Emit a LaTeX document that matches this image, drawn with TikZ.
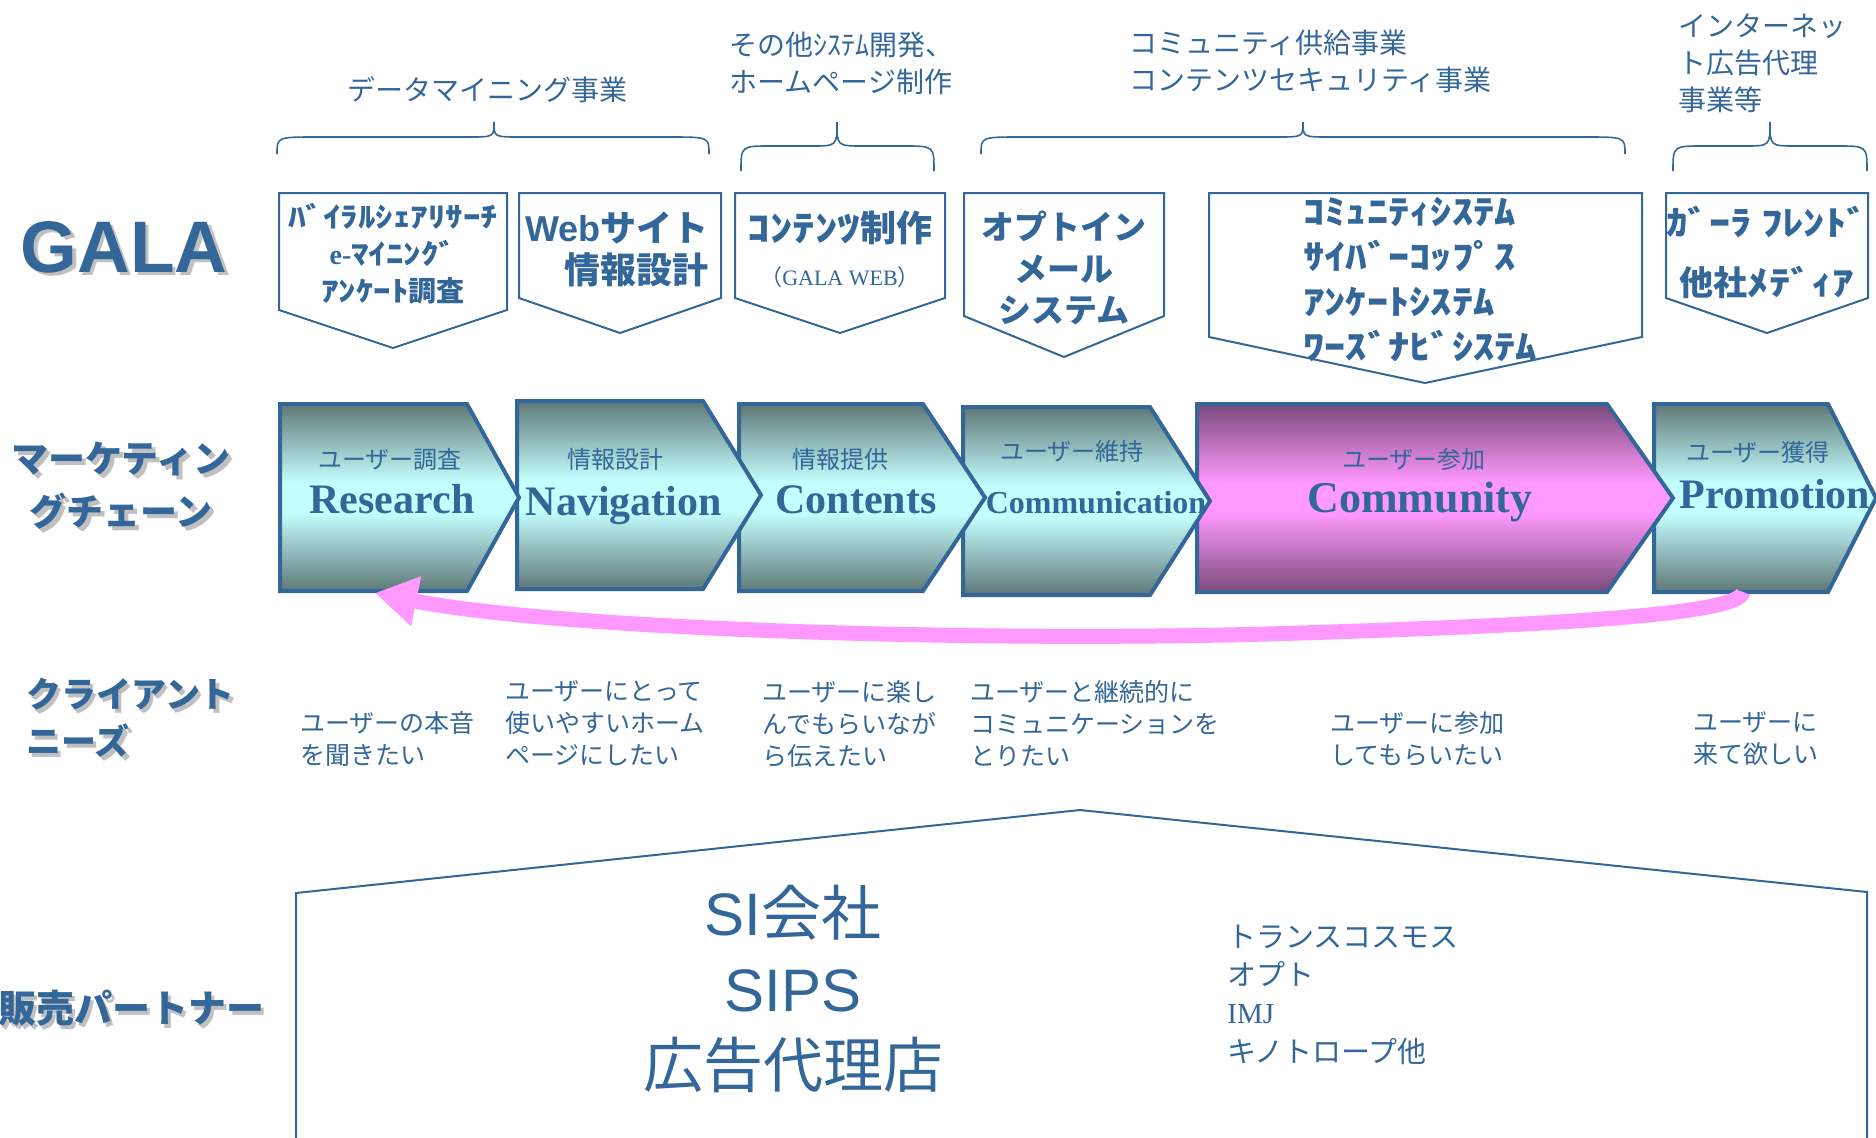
\documentclass[tikz,border=0pt]{standalone}
\usepackage{fontspec}
\setmainfont{Noto Sans CJK JP}
\newfontfamily\hwfont{Noto Sans CJK JP}[FakeStretch=1.25]
\newfontfamily\arialfont{Liberation Sans}
\newfontfamily\timesfont{Liberation Serif}
\usetikzlibrary{arrows.meta}

\definecolor{galablue}{HTML}{336699}
\definecolor{tealdark}{HTML}{5E7876}
\definecolor{teallight}{HTML}{C4FFFF}
\definecolor{plumdark}{HTML}{7A4A7A}
\definecolor{pinklight}{HTML}{FF99FF}
\definecolor{shadowgray}{HTML}{C0C0C0}

\pgfdeclareverticalshading{tealband}{100bp}{color(0bp)=(tealdark); color(25bp)=(tealdark); color(46bp)=(teallight); color(54bp)=(teallight); color(75bp)=(tealdark); color(100bp)=(tealdark)}
\pgfdeclareverticalshading{plumband}{100bp}{color(0bp)=(plumdark); color(25bp)=(plumdark); color(46bp)=(pinklight); color(54bp)=(pinklight); color(75bp)=(plumdark); color(100bp)=(plumdark)}

% half-width katakana, a little wider as in the slide
\newcommand{\hw}[1]{{\hwfont #1}}
\newcommand{\shadowed}[1]{\makebox[0pt][l]{\hspace{1.8pt}\raisebox{-1.8pt}{\textcolor{shadowgray}{#1}}}#1}

\begin{document}
\begin{tikzpicture}[x=0.5pt,y=-0.5pt,
    bluetext/.style={text=galablue, inner sep=0pt},
    sidehead/.style={bluetext, font=\bfseries\fontsize{18.5pt}{26.5pt}\selectfont},
    toplabel/.style={bluetext, align=left, font=\fontsize{14pt}{18.5pt}\selectfont},
    brace/.style={draw=galablue, line width=0.8pt},
    outline/.style={draw=galablue, line width=1pt},
    chevron/.style={draw=galablue, line width=2pt, line join=miter},
    boxtext/.style={bluetext, align=center, font=\bfseries\fontsize{14pt}{18.5pt}\selectfont},
    steptag/.style={bluetext, anchor=base, font=\fontsize{12pt}{14pt}\selectfont},
    stepname/.style={bluetext, anchor=base, font=\timesfont\bfseries\fontsize{21pt}{24pt}\selectfont},
    needs/.style={bluetext, anchor=west, align=left, font=\fontsize{12.5pt}{16pt}\selectfont},
    feedback/.style={draw=pinklight, line width=7.5pt, -{Triangle[length=21pt,width=24pt]}},
  ]
    \useasboundingbox (0,0) rectangle (1876,1137);

    % Row titles on the left
    \node[bluetext, font=\arialfont\bfseries\fontsize{36.5pt}{40pt}\selectfont] (gala) at (124,249) {\shadowed{GALA}};
    \node[sidehead, align=center] (chain) at (121,487.5) {\shadowed{マーケティン}\\\shadowed{グチェーン}};
    \node[sidehead, align=left, anchor=west, font=\bfseries\fontsize{17.5pt}{23.5pt}\selectfont] (clientneeds) at (26,719.5) {\shadowed{クライアント}\\\shadowed{ニーズ}};
    \node[sidehead, anchor=west, font=\bfseries\fontsize{19pt}{22pt}\selectfont] (partner) at (-2,1010) {\shadowed{販売パートナー}};

    % Business areas and their braces
    \node[toplabel] (datamining) at (487,90) {データマイニング事業};
    \node[toplabel, anchor=west] (othersys) at (729,63) {その他ｼｽﾃﾑ開発、\\ホームページ制作};
    \node[toplabel, anchor=west] (supply) at (1129,61.5) {コミュニティ供給事業\\コンテンツセキュリティ事業};
    \node[toplabel, anchor=west] (adagency) at (1678,63.5) {インターネッ\\ト広告代理\\事業等};
    \foreach \bl/\bp/\br/\be/\bs/\bc in {277/494/709/154/137/40, 741/837/934/171/146/30, 981/1303/1625/154/137/40, 1673/1770/1867/171/146/30}
      \draw[brace] (\bl,\be) .. controls (\bl,\bs) .. (\bl+\bc,\bs) -- (\bp-26,\bs) .. controls (\bp,\bs) .. (\bp,122)
        .. controls (\bp,\bs) .. (\bp+26,\bs) -- (\br-\bc,\bs) .. controls (\br,\bs) .. (\br,\be);

    % GALA services
    \draw[outline] (279,193) -- (507,193) -- (507,310) -- (393,348) -- (279,310) -- cycle;
    \draw[outline] (519,193) -- (721,193) -- (721,298) -- (620,333) -- (519,298) -- cycle;
    \draw[outline] (735,193) -- (945,193) -- (945,298) -- (840,333) -- (735,298) -- cycle;
    \draw[outline] (964,193) -- (1164,193) -- (1164,316) -- (1064,357) -- (964,316) -- cycle;
    \draw[outline] (1209,193) -- (1642,193) -- (1642,337) -- (1425,383) -- (1209,337) -- cycle;
    \draw[outline] (1666,193) -- (1868,193) -- (1868,298) -- (1767,333) -- (1666,298) -- cycle;
    \node[boxtext] (viral) at (393,253.5) {\hw{ﾊﾞｲﾗﾙｼｪｱﾘｻｰﾁ}\\{\timesfont e-}\hw{ﾏｲﾆﾝｸﾞ}\\\hw{ｱﾝｹｰﾄ}調査};
    \node[boxtext, align=right, anchor=east, font=\bfseries\fontsize{18pt}{21pt}\selectfont] (website) at (709,249) {{\arialfont Web}サイト\\情報設計};
    \node[boxtext, font=\bfseries\fontsize{18pt}{21pt}\selectfont] (contentmake) at (840,228) {\hw{ｺﾝﾃﾝﾂ}制作};
    \node[bluetext, font=\fontsize{11pt}{13pt}\selectfont] (galaweb) at (840,277) {（{\timesfont GALA WEB}）};
    \node[boxtext, font=\bfseries\fontsize{16.5pt}{20.75pt}\selectfont] (optin) at (1064,268) {オプトイン\\メール\\システム};
    \node[boxtext, align=left, anchor=west, font=\bfseries\fontsize{17pt}{22.5pt}\selectfont] (communitysys) at (1303,279.5) {\hw{ｺﾐｭﾆﾃｨｼｽﾃﾑ}\\\hw{ｻｲﾊﾞｰｺｯﾌﾟｽ}\\\hw{ｱﾝｹｰﾄｼｽﾃﾑ}\\\hw{ﾜｰｽﾞﾅﾋﾞｼｽﾃﾑ}};
    \node[boxtext, font=\bfseries\fontsize{17pt}{30pt}\selectfont] (media) at (1767,252) {\hw{ｶﾞｰﾗ ﾌﾚﾝﾄﾞ}\\他社\hw{ﾒﾃﾞｨｱ}};

    % Marketing chain, drawn right to left so each tip lies on the next step
    \shadedraw[chevron, shading=tealband] (1654,404) -- (1828,404) -- (1876,498) -- (1828,592) -- (1654,592) -- cycle;
    \shadedraw[chevron, shading=plumband] (1197,404) -- (1607,404) -- (1673,498) -- (1607,592) -- (1197,592) -- cycle;
    \shadedraw[chevron, shading=tealband] (963,407) -- (1150,407) -- (1210,501) -- (1150,595) -- (963,595) -- cycle;
    \shadedraw[chevron, shading=tealband] (739,404) -- (923,404) -- (985,497.5) -- (923,591) -- (739,591) -- cycle;
    \shadedraw[chevron, shading=tealband] (517,401) -- (703,401) -- (761,495) -- (703,589) -- (517,589) -- cycle;
    \shadedraw[chevron, shading=tealband] (280,404) -- (467,404) -- (519,497.5) -- (467,591) -- (280,591) -- cycle;

    \node[steptag] (research-tag) at (390,468) {ユーザー調査};
    \node[stepname] (research) at (392,513) {Research};
    \node[steptag] (navigation-tag) at (615,468) {情報設計};
    \node[stepname] (navigation) at (624,515) {Navigation};
    \node[steptag] (contents-tag) at (840,468) {情報提供};
    \node[stepname] (contents) at (856,513) {Contents};
    \node[steptag] (communication-tag) at (1072,460) {ユーザー維持};
    \node[stepname, font=\timesfont\bfseries\fontsize{16pt}{18pt}\selectfont] (communication) at (1096,513) {Communication};
    \node[steptag] (community-tag) at (1414,468) {ユーザー参加};
    \node[stepname, font=\timesfont\bfseries\fontsize{22pt}{24pt}\selectfont] (community) at (1420,512) {Community};
    \node[steptag] (promotion-tag) at (1758,461) {ユーザー獲得};
    \node[stepname] (promotion) at (1775,508) {Promotion};

    % Back from promotion to research
    \coordinate (promotion-s) at (1743,592);
    \coordinate (research-s) at (375,593);
    \draw[feedback] (promotion-s) .. controls (1740,615) and (1550,625) .. (1300,633)
      .. controls (1000,643) and (560,630) .. (research-s);

    % Client needs
    \node[needs] (need-research) at (300,739) {ユーザーの本音\\を聞きたい};
    \node[needs] (need-navigation) at (505,723.5) {ユーザーにとって\\使いやすいホーム\\ページにしたい};
    \node[needs] (need-contents) at (762,723.5) {ユーザーに楽し\\んでもらいなが\\ら伝えたい};
    \node[needs] (need-communication) at (970,723.5) {ユーザーと継続的に\\コミュニケーションを\\とりたい};
    \node[needs] (need-community) at (1330,739) {ユーザーに参加\\してもらいたい};
    \node[needs] (need-promotion) at (1693,739) {ユーザーに\\来て欲しい};

    % Sales partners
    \draw[outline] (296,1145) -- (296,893) -- (1080,810) -- (1867,892) -- (1867,1145);
    \node[bluetext, align=center, font=\fontsize{30pt}{38pt}\selectfont] (sigroup) at (793,989) {{\arialfont SI}会社\\{\arialfont SIPS}\\広告代理店};
    \node[bluetext, anchor=west, align=left, font=\fontsize{14.5pt}{19.2pt}\selectfont] (partnerlist) at (1227,994.5) {トランスコスモス\\オプト\\{\timesfont IMJ}\\キノトロープ他};
\end{tikzpicture}
\end{document}
